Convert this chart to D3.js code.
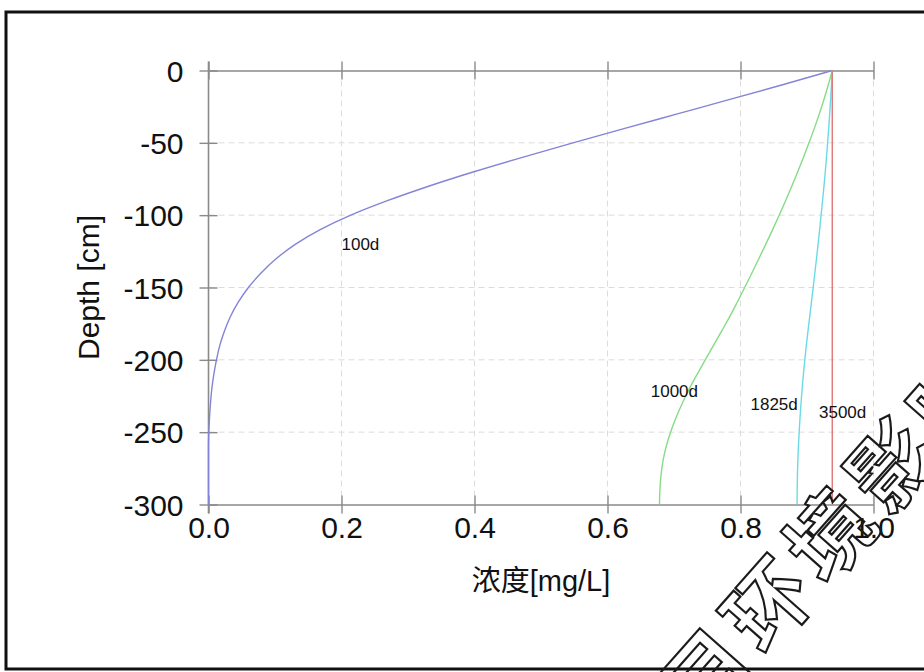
<!DOCTYPE html>
<html>
<head>
<meta charset="utf-8">
<script src="https://cdn.jsdelivr.net/npm/d3@7"></script>
<style>
  body { margin: 0; background: #fff; }
  text { font-family: "Liberation Sans", Arial, "Noto Sans CJK SC", sans-serif; }
</style>
</head>
<body>
<script>
// depth grid (cm) shared by all profiles
var depths = [0, -10, -20, -30, -40, -50, -60, -70, -80, -90, -100,
    -110, -120, -130, -140, -150, -160, -170, -180, -190, -200,
    -210, -220, -230, -240, -250, -260, -270, -280, -290, -300];

// concentration [mg/L]
var conc100 = [0.938, 0.862, 0.784, 0.705, 0.626, 0.548, 0.472, 0.399, 0.331, 0.269, 0.214,
    0.168, 0.131, 0.102, 0.079, 0.060, 0.045, 0.033, 0.024, 0.017, 0.012,
    0.008, 0.005, 0.003, 0.0015, 0.0005, 0, 0, 0, 0, 0];
var conc1000 = [0.938, 0.932, 0.9255, 0.9185, 0.911, 0.903, 0.8947, 0.8861, 0.8771, 0.8678, 0.8582,
    0.8483, 0.8381, 0.8277, 0.8171, 0.8063, 0.7953, 0.784, 0.7718, 0.7594, 0.747,
    0.7348, 0.723, 0.7125, 0.703, 0.6948, 0.6882, 0.6834, 0.6804, 0.6788, 0.6782];
var conc1825 = [0.938, 0.9368, 0.9355, 0.9341, 0.9326, 0.931, 0.9293, 0.9275, 0.9255, 0.9234, 0.9212,
    0.919, 0.9167, 0.9143, 0.9118, 0.9093, 0.9067, 0.9041, 0.9015, 0.899, 0.8967,
    0.8946, 0.8927, 0.891, 0.8895, 0.8882, 0.8871, 0.8862, 0.8856, 0.8852, 0.8851];
var conc3500 = [0.938, 0.938, 0.938, 0.938, 0.938, 0.938, 0.938, 0.938, 0.938, 0.938, 0.938,
    0.938, 0.938, 0.938, 0.938, 0.938, 0.938, 0.938, 0.938, 0.938, 0.938,
    0.938, 0.938, 0.938, 0.938, 0.938, 0.938, 0.938, 0.938, 0.938, 0.938];

var seriesNames = ["100d", "1000d", "1825d", "3500d"];
var seriesColors = ["#8484d6", "#86dc86", "#6adbe6", "#e07676"];
// label anchor (concentration, depth) for each curve label
var labelConc = [0.2, 0.665, 0.815, 0.918];
var labelDepth = [-124, -226, -235, -240];

var xTicks = [0, 0.2, 0.4, 0.6, 0.8, 1.0];
var yTicks = [0, -50, -100, -150, -200, -250, -300];

var width = 924, height = 672;

var svg = d3.select("body").append("svg")
    .attr("width", width)
    .attr("height", height);

// outer frame
svg.append("rect")
    .attr("x", 6).attr("y", 12)
    .attr("width", 940).attr("height", 657)
    .attr("fill", "none")
    .attr("stroke", "#111")
    .attr("stroke-width", 3);

var xScale = d3.scaleLinear().domain([0, 1]).range([208.5, 873.5]);
var yScale = d3.scaleLinear().domain([0, -300]).range([70.5, 504.5]);

// dashed grid
svg.append("g").selectAll("line")
    .data(xTicks.slice(1))
    .enter().append("line")
    .attr("x1", function (d) { return xScale(d); })
    .attr("x2", function (d) { return xScale(d); })
    .attr("y1", yScale(0)).attr("y2", yScale(-300))
    .attr("stroke", "#dcdcdc")
    .attr("stroke-dasharray", "6,4");
svg.append("g").selectAll("line")
    .data(yTicks.slice(1, -1))
    .enter().append("line")
    .attr("x1", xScale(0)).attr("x2", xScale(1))
    .attr("y1", function (d) { return yScale(d); })
    .attr("y2", function (d) { return yScale(d); })
    .attr("stroke", "#dcdcdc")
    .attr("stroke-dasharray", "6,4");

// axes, ticks cross the axis line
var axisColor = "#8a8a8a";

var topAxis = d3.axisTop(xScale).tickValues(xTicks).tickSizeOuter(0).tickFormat("");
var bottomAxis = d3.axisBottom(xScale).tickValues(xTicks).tickSizeOuter(0)
    .tickFormat(d3.format(".1f"));
var leftAxis = d3.axisLeft(yScale).tickValues(yTicks).tickSizeOuter(0)
    .tickFormat(function (d) { return String(d); }); // plain hyphen like the original

var gTop = svg.append("g")
    .attr("transform", "translate(0," + yScale(0) + ")")
    .call(topAxis);
var gBottom = svg.append("g")
    .attr("transform", "translate(0," + yScale(-300) + ")")
    .call(bottomAxis);
var gLeft = svg.append("g")
    .attr("transform", "translate(" + xScale(0) + ",0)")
    .call(leftAxis);

[gTop, gBottom].forEach(function (g) {
    g.selectAll(".tick line").attr("y1", -9).attr("y2", 9);
});
gLeft.selectAll(".tick line").attr("x1", -9).attr("x2", 9);
gLeft.select(".domain").attr("d", "M0," + (yScale(0) - 9) + "V" + (yScale(-300) + 9));

[gTop, gBottom, gLeft].forEach(function (g) {
    g.select(".domain").attr("stroke", axisColor).attr("stroke-width", 1.6);
    g.selectAll(".tick line").attr("stroke", axisColor).attr("stroke-width", 1.4);
});

gBottom.selectAll(".tick text")
    .attr("y", 33).attr("dy", 0)
    .attr("font-size", 30)
    .attr("fill", "#111");
gLeft.selectAll(".tick text")
    .attr("x", -25).attr("dy", "0.36em")
    .attr("font-size", 30)
    .attr("fill", "#111");

// axis titles
svg.append("text")
    .attr("x", (xScale(0) + xScale(1)) / 2)
    .attr("y", 591)
    .attr("text-anchor", "middle")
    .attr("font-size", 29)
    .attr("fill", "#111")
    .text("浓度[mg/L]");

svg.append("text")
    .attr("transform", "translate(99," + ((yScale(0) + yScale(-300)) / 2) + ") rotate(-90)")
    .attr("text-anchor", "middle")
    .attr("font-size", 30)
    .attr("fill", "#111")
    .text("Depth [cm]");

// profiles
var seriesConc = [conc100, conc1000, conc1825, conc3500];
var line = d3.line()
    .x(function (d) { return xScale(d[0]); })
    .y(function (d) { return yScale(d[1]); })
    .curve(d3.curveMonotoneY);

seriesConc.forEach(function (vals, i) {
    var pts = vals.map(function (c, j) { return [c, depths[j]]; });
    svg.append("path")
        .datum(pts)
        .attr("d", line)
        .attr("fill", "none")
        .attr("stroke", seriesColors[i])
        .attr("stroke-width", 1.4);
    svg.append("text")
        .attr("x", xScale(labelConc[i]))
        .attr("y", yScale(labelDepth[i]))
        .attr("font-size", 17)
        .attr("fill", "#111")
        .text(seriesNames[i]);
});

// watermark (outlined characters)
svg.append("text")
    .attr("transform", "translate(767,598) rotate(-48.5)")
    .attr("x", -232)
    .attr("dominant-baseline", "central")
    .attr("font-size", 84)
    .attr("letter-spacing", 9)
    .attr("font-weight", "bold")
    .style("font-family", "'Noto Sans CJK SC', sans-serif")
    .attr("fill", "none")
    .attr("stroke", "#1a1a1a")
    .attr("stroke-width", 2.2)
    .text("项目环境影响评价");
</script>
</body>
</html>
